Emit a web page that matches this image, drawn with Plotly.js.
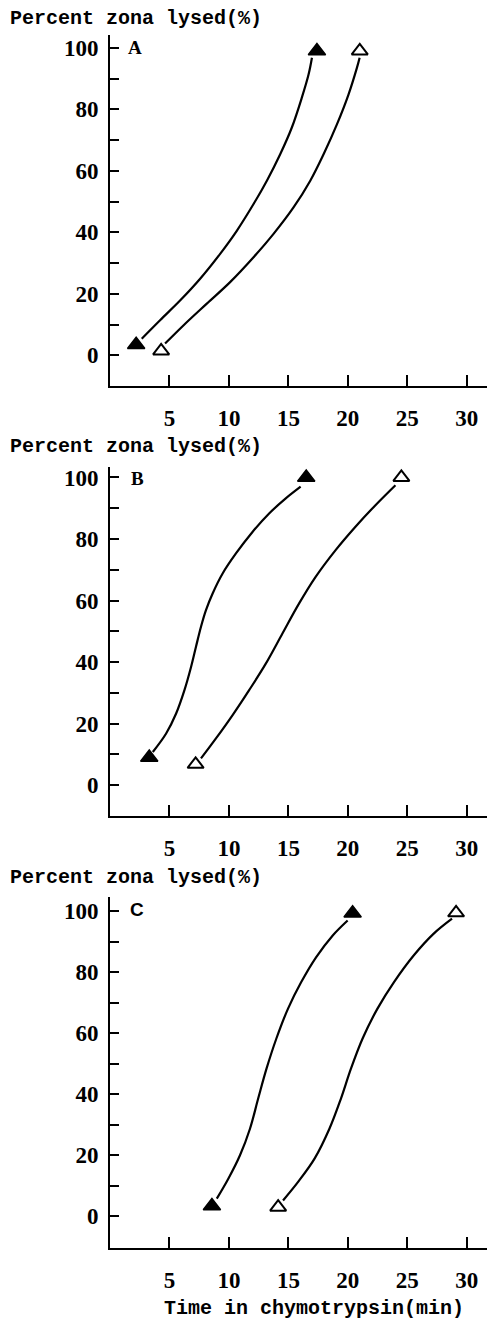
<!DOCTYPE html>
<html>
<head>
<meta charset="utf-8">
<script src="https://cdn.plot.ly/plotly-3.0.1.min.js"></script>
<style>
html,body{margin:0;padding:0;background:#fff;}
#chart{width:487px;height:1322px;}
</style>
</head>
<body>
<div id="chart"></div>
<script>
// ---------- data ----------
const panelLabels = ['A', 'B', 'C'];
const yTitleText = 'Percent zona lysed(%)';
const xTitleText = 'Time in chymotrypsin(min)';
const xTickVals = [5, 10, 15, 20, 25, 30];
const xTickText = ['5', '10', '15', '20', '25', '30'];
const yTickVals = [0, 20, 40, 60, 80, 100];
const yTickText = ['0', '20', '40', '60', '80', '100'];
const yMinorTickVals = [10, 30, 50, 70, 90];

// Panel A
const aFilledX = [2.2, 17.4];
const aFilledY = [3.4, 99];
const aOpenX = [4.3, 21.0];
const aOpenY = [1.4, 99];
const aFilledCurveX = [2.67, 4.21, 5.89, 7.58, 9.26, 10.66, 12.07, 13.19, 14.31, 15.29, 16.13, 16.7, 16.98];
const aFilledCurveY = [5.4, 11.4, 17.8, 24.9, 33.0, 40.5, 49.2, 56.8, 65.4, 74.1, 83.8, 91.4, 96.8];
const aOpenCurveX = [4.63, 6.17, 8.14, 10.1, 12.07, 13.75, 15.43, 16.84, 17.96, 19.08, 20.06, 20.76, 20.99];
const aOpenCurveY = [3.8, 9.7, 16.8, 23.8, 31.9, 39.5, 48.1, 56.8, 65.4, 75.1, 84.9, 93.5, 96.8];

// Panel B
const bFilledX = [3.3, 16.5];
const bFilledY = [9.0, 100];
const bOpenX = [7.2, 24.5];
const bOpenY = [6.8, 100];
const bFilledCurveX = [3.6, 4.72, 5.56, 6.26, 6.82, 7.23, 7.65, 8.07, 8.63, 9.47, 10.59, 11.98, 13.38, 14.78, 16.03];
const bFilledCurveY = [10.8, 16.8, 23.3, 30.9, 38.5, 45.0, 51.5, 56.9, 62.3, 68.8, 75.3, 82.3, 88.3, 93.2, 97.0];
const bOpenCurveX = [7.65, 8.91, 10.31, 11.7, 13.1, 14.5, 15.89, 17.29, 18.97, 20.64, 22.32, 24.0];
const bOpenCurveY = [8.7, 15.2, 22.8, 30.9, 39.5, 49.3, 59.0, 67.7, 76.4, 84.0, 91.0, 97.5];

// Panel C
const cFilledX = [8.57, 20.4];
const cFilledY = [3.4, 99.4];
const cOpenX = [14.14, 29.1];
const cOpenY = [3.0, 99.5];
const cFilledCurveX = [8.98, 9.96, 10.93, 11.77, 12.46, 13.16, 13.99, 14.97, 16.08, 17.34, 18.73, 19.98];
const cFilledCurveY = [5.8, 12.4, 20.0, 28.7, 38.6, 48.4, 58.3, 68.1, 76.8, 85.0, 92.1, 97.0];
const cOpenCurveX = [14.55, 15.8, 17.2, 18.45, 19.42, 20.26, 21.24, 22.49, 23.88, 25.55, 27.22, 28.76];
const cOpenCurveY = [5.2, 11.2, 18.9, 28.7, 38.6, 48.4, 58.3, 68.1, 76.8, 85.6, 92.7, 97.6];

// ---------- layout helpers ----------
const W = 487, H = 1322;
const px = v => v / W;
const py = v => 1 - v / H;

const panels = [
  {fx: aFilledX, fy: aFilledY, ox: aOpenX, oy: aOpenY, fcx: aFilledCurveX, fcy: aFilledCurveY, ocx: aOpenCurveX, ocy: aOpenCurveY,
   top: 35, bottom: 386, yr: [-10.0, 104.2], titleY: 18, labelX: 126, labelY: 47, labelFamily: 'Liberation Serif, serif'},
  {fx: bFilledX, fy: bFilledY, ox: bOpenX, oy: bOpenY, fcx: bFilledCurveX, fcy: bFilledCurveY, ocx: bOpenCurveX, ocy: bOpenCurveY,
   top: 467, bottom: 816, yr: [-10.0, 103.4], titleY: 447, labelX: 129, labelY: 478, labelFamily: 'Liberation Serif, serif'},
  {fx: cFilledX, fy: cFilledY, ox: cOpenX, oy: cOpenY, fcx: cFilledCurveX, fcy: cFilledCurveY, ocx: cOpenCurveX, ocy: cOpenCurveY,
   top: 897, bottom: 1248, yr: [-10.4, 104.7], titleY: 877, labelX: 128, labelY: 910, labelFamily: 'Liberation Sans, sans-serif'}
];

const tickFont = {family: 'Liberation Serif, serif', size: 23, color: '#000', weight: 'bold'};
const monoFont = {family: 'Liberation Mono, monospace', size: 20, color: '#000', weight: 'bold'};

const traces = [];
const layout = {
  width: W, height: H,
  margin: {l: 0, r: 0, t: 0, b: 0},
  paper_bgcolor: '#fff', plot_bgcolor: 'rgba(0,0,0,0)',
  showlegend: false,
  annotations: []
};

panels.forEach((p, i) => {
  const n = i === 0 ? '' : String(i + 1);
  const xa = 'x' + n, ya = 'y' + n;
  traces.push({x: p.fcx, y: p.fcy, xaxis: xa, yaxis: ya, mode: 'lines',
    line: {color: '#000', width: 2.2, shape: 'spline', smoothing: 1}, hoverinfo: 'skip'});
  traces.push({x: p.ocx, y: p.ocy, xaxis: xa, yaxis: ya, mode: 'lines',
    line: {color: '#000', width: 2.2, shape: 'spline', smoothing: 1}, hoverinfo: 'skip'});
  traces.push({x: p.fx, y: p.fy, xaxis: xa, yaxis: ya, mode: 'markers',
    marker: {symbol: 'triangle-up', size: 15, color: '#000', line: {color: '#000', width: 1.5}}});
  traces.push({x: p.ox, y: p.oy, xaxis: xa, yaxis: ya, mode: 'markers',
    marker: {symbol: 'triangle-up', size: 14, color: '#fff', line: {color: '#000', width: 2}}});

  layout['xaxis' + n] = {
    domain: [px(110), 1], range: [0, 31.7], anchor: ya,
    showgrid: false, zeroline: false, showline: true, linecolor: '#000', linewidth: 2,
    ticks: 'inside', ticklen: 11, tickwidth: 2, tickcolor: '#000',
    tickmode: 'array', tickvals: xTickVals, ticktext: xTickText, tickfont: tickFont,
    ticklabelstandoff: 10, automargin: false, fixedrange: true
  };
  layout['yaxis' + n] = {
    domain: [py(p.bottom), py(p.top)], range: p.yr, anchor: xa,
    showgrid: false, zeroline: false, showline: true, linecolor: '#000', linewidth: 2,
    ticks: 'inside', ticklen: 9, tickwidth: 2, tickcolor: '#000',
    tickmode: 'array', tickvals: yTickVals, ticktext: yTickText, tickfont: tickFont,
    minor: {tickmode: 'array', tickvals: yMinorTickVals, ticks: 'inside', ticklen: 9, tickwidth: 2, tickcolor: '#000', showgrid: false},
    ticklabelstandoff: 5, automargin: false, fixedrange: true
  };
  layout.annotations.push({text: yTitleText, xref: 'paper', yref: 'paper',
    x: px(8), y: py(p.titleY), xanchor: 'left', yanchor: 'middle', showarrow: false, font: monoFont});
  layout.annotations.push({text: panelLabels[i], xref: 'paper', yref: 'paper',
    x: px(p.labelX), y: py(p.labelY), xanchor: 'left', yanchor: 'middle', showarrow: false,
    font: {family: p.labelFamily, size: 19, color: '#000', weight: 'bold'}});
});

layout.annotations.push({text: xTitleText, xref: 'paper', yref: 'paper',
  x: px(314), y: py(1308), xanchor: 'center', yanchor: 'middle', showarrow: false, font: monoFont});

Plotly.newPlot('chart', traces, layout, {staticPlot: true, displayModeBar: false});
</script>
</body>
</html>
